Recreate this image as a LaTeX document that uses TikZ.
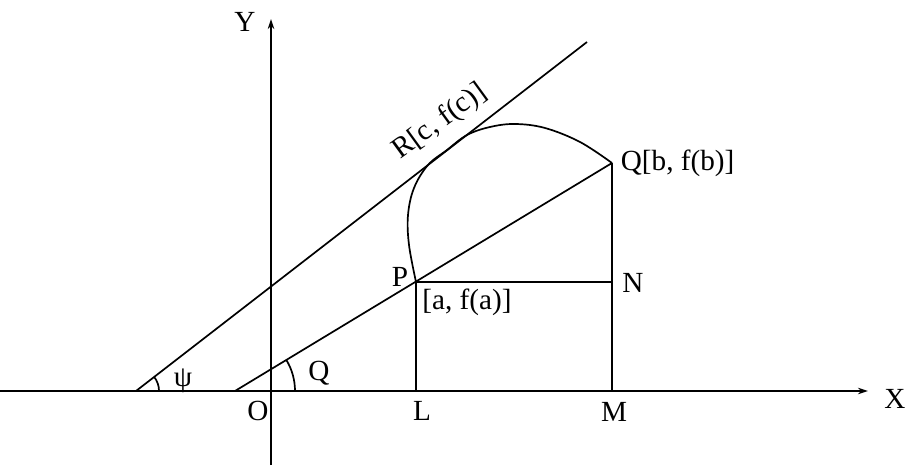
\documentclass[tikz,border=0pt]{standalone}
\usepackage{fontspec}
\setmainfont{Liberation Serif}
\usetikzlibrary{arrows.meta}
\begin{document}
\begin{tikzpicture}[x=0.5pt,y=0.5pt, line width=0.85pt,
  lbl/.style={inner sep=0pt, font=\fontsize{14.6}{17}\selectfont},
  ax/.style={-{Stealth[length=5pt,width=3.2pt]}}]
\useasboundingbox (0,0) rectangle (908,465);
\coordinate (xl) at (0,74);
\coordinate (xr) at (868,74);
\coordinate (yb) at (271,0);
\coordinate (yt) at (271,446);
\coordinate (A) at (136,74);
\coordinate (Rend) at (587,423);
\coordinate (B) at (235,74);
\coordinate (P) at (416,183);
\coordinate (Q) at (612,302);
\coordinate (N) at (612,183);
\coordinate (L) at (416,74);
\coordinate (M) at (612,74);
\draw[ax] (xl) -- (xr);
\draw[ax] (yb) -- (yt);
\draw (A) -- (Rend);
\draw (B) -- (Q);
\draw (P) -- (N);
\draw (P) -- (L);
\draw (Q) -- (M);
\draw plot[smooth, tension=0.6] coordinates {(P) (409,220) (408,250) (414,277) (428,300) (447,315) (467,330) (490,338) (515,341) (545,337) (580,323) (Q)};
\draw ([shift={(11.5pt,0)}]A) arc[start angle=0, end angle=37.7, radius=11.5pt];
\draw ([shift={(30pt,0)}]B) arc[start angle=0, end angle=31.2, radius=30pt];
\node[lbl] (ylab) at (245,443) {Y};
\node[lbl] (xlab) at (895,66) {X};
\node[lbl] (olab) at (258,54) {O};
\node[lbl] (llab) at (422,54) {L};
\node[lbl] (mlab) at (614,53) {M};
\node[lbl] (psilab) at (183,84) {ψ};
\node[lbl] (qang) at (319,92) {Q};
\node[lbl] (plab) at (400,188) {P};
\node[lbl] (nlab) at (633,182) {N};
\node[lbl] (alab) at (467,163) {[a, f(a)]};
\node[lbl, anchor=west] (qlab) at (620,302) {Q[b, f(b)]};
\node[lbl, rotate=36] (rlab) at (440,343) {R[c, f(c)]};
\end{tikzpicture}
\end{document}
